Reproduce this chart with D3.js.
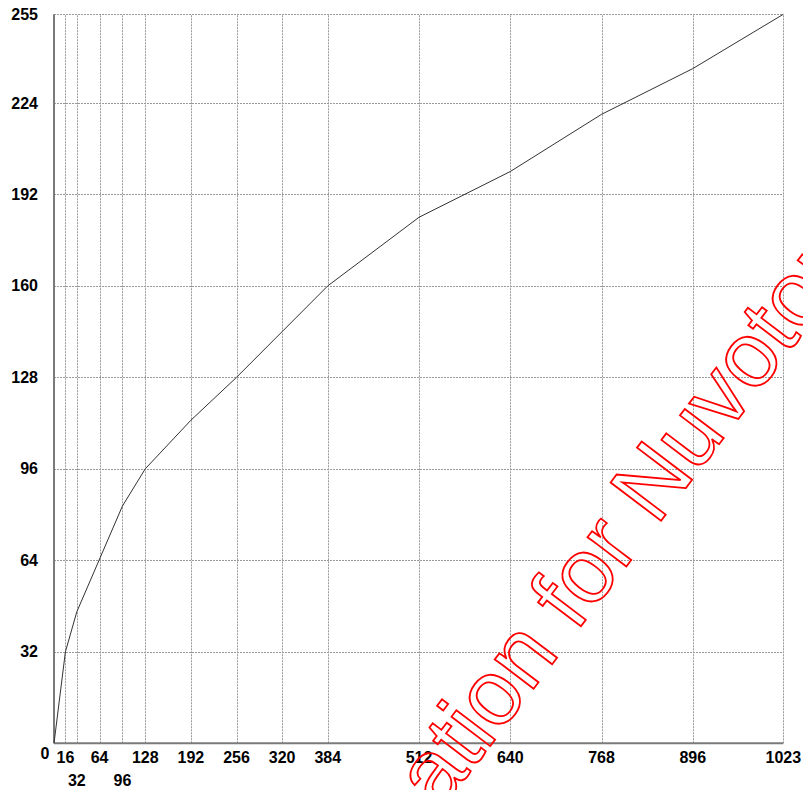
<!DOCTYPE html>
<html>
<head>
<meta charset="utf-8">
<script src="https://cdn.jsdelivr.net/npm/d3@7"></script>
<style>
  html, body { margin: 0; padding: 0; background: #fff; }
  svg { display: block; }
</style>
</head>
<body>
<svg id="chart" width="803" height="790"></svg>
<script>
// curve values
const inputs = [0, 16, 32, 96, 128, 192, 256, 320, 384, 512, 640, 768, 896, 1023];
const outputs = [0, 32, 46, 83, 96, 113, 128, 144, 160, 184, 200, 220, 236, 255];

const xTicks = [16, 32, 64, 96, 128, 192, 256, 320, 384, 512, 640, 768, 896, 1023];
const xLowRow = [32, 96];
const yTicks = [32, 64, 96, 128, 160, 192, 224, 255];

const width = 803, height = 790;
const margin = {top: 14.3, right: 19.7, bottom: 46.7, left: 54};

const svg = d3.select("#chart")
    .attr("font-family", "'Liberation Sans', Arial, sans-serif");

const x = d3.scaleLinear().domain([0, 1023]).range([margin.left, width - margin.right]);
const y = d3.scaleLinear().domain([0, 255]).range([height - margin.bottom, margin.top]);

// grid
const grid = svg.append("g")
    .attr("stroke", "#9a9a9a")
    .attr("stroke-width", 1)
    .attr("stroke-dasharray", "2,1");

grid.selectAll("line.v")
    .data(xTicks)
    .enter().append("line")
    .attr("x1", d => Math.round(x(d)) + 0.5)
    .attr("x2", d => Math.round(x(d)) + 0.5)
    .attr("y1", y(0))
    .attr("y2", y(255));

grid.selectAll("line.h")
    .data(yTicks)
    .enter().append("line")
    .attr("x1", x(0))
    .attr("x2", x(1023))
    .attr("y1", d => Math.round(y(d)) + 0.5)
    .attr("y2", d => Math.round(y(d)) + 0.5);

// axes lines
svg.append("line")
    .attr("x1", x(0)).attr("x2", x(0))
    .attr("y1", y(0)).attr("y2", y(255))
    .attr("stroke", "#7a7a7a").attr("stroke-width", 2);
svg.append("line")
    .attr("x1", x(0)).attr("x2", x(1023))
    .attr("y1", y(0)).attr("y2", y(0))
    .attr("stroke", "#7a7a7a").attr("stroke-width", 2);

// curve
const line = d3.line()
    .x((d, i) => x(inputs[i]))
    .y(d => y(d));

svg.append("path")
    .attr("d", line(outputs))
    .attr("fill", "none")
    .attr("stroke", "#333")
    .attr("stroke-width", 1);

// labels
const labels = svg.append("g")
    .attr("font-size", 16)
    .attr("font-weight", "bold")
    .attr("fill", "#000");

labels.selectAll("text.y")
    .data(yTicks)
    .enter().append("text")
    .attr("x", 38)
    .attr("y", d => y(d))
    .attr("dy", "0.35em")
    .attr("text-anchor", "end")
    .text(d => d);

labels.selectAll("text.x")
    .data(xTicks)
    .enter().append("text")
    .attr("x", d => x(d))
    .attr("y", d => xLowRow.includes(d) ? 786 : 763)
    .attr("text-anchor", "middle")
    .text(d => d);

labels.append("text")
    .attr("x", 45)
    .attr("y", 759)
    .attr("text-anchor", "middle")
    .text("0");

// watermark
svg.append("text")
    .attr("transform", "translate(440,812) rotate(-52.8)")
    .attr("font-family", "'Liberation Sans', Arial, sans-serif")
    .attr("font-size", 92)
    .attr("fill", "none")
    .attr("stroke", "#ff0000")
    .attr("stroke-width", 1.8)
    .text("ation for Nuvoton");
</script>
</body>
</html>
